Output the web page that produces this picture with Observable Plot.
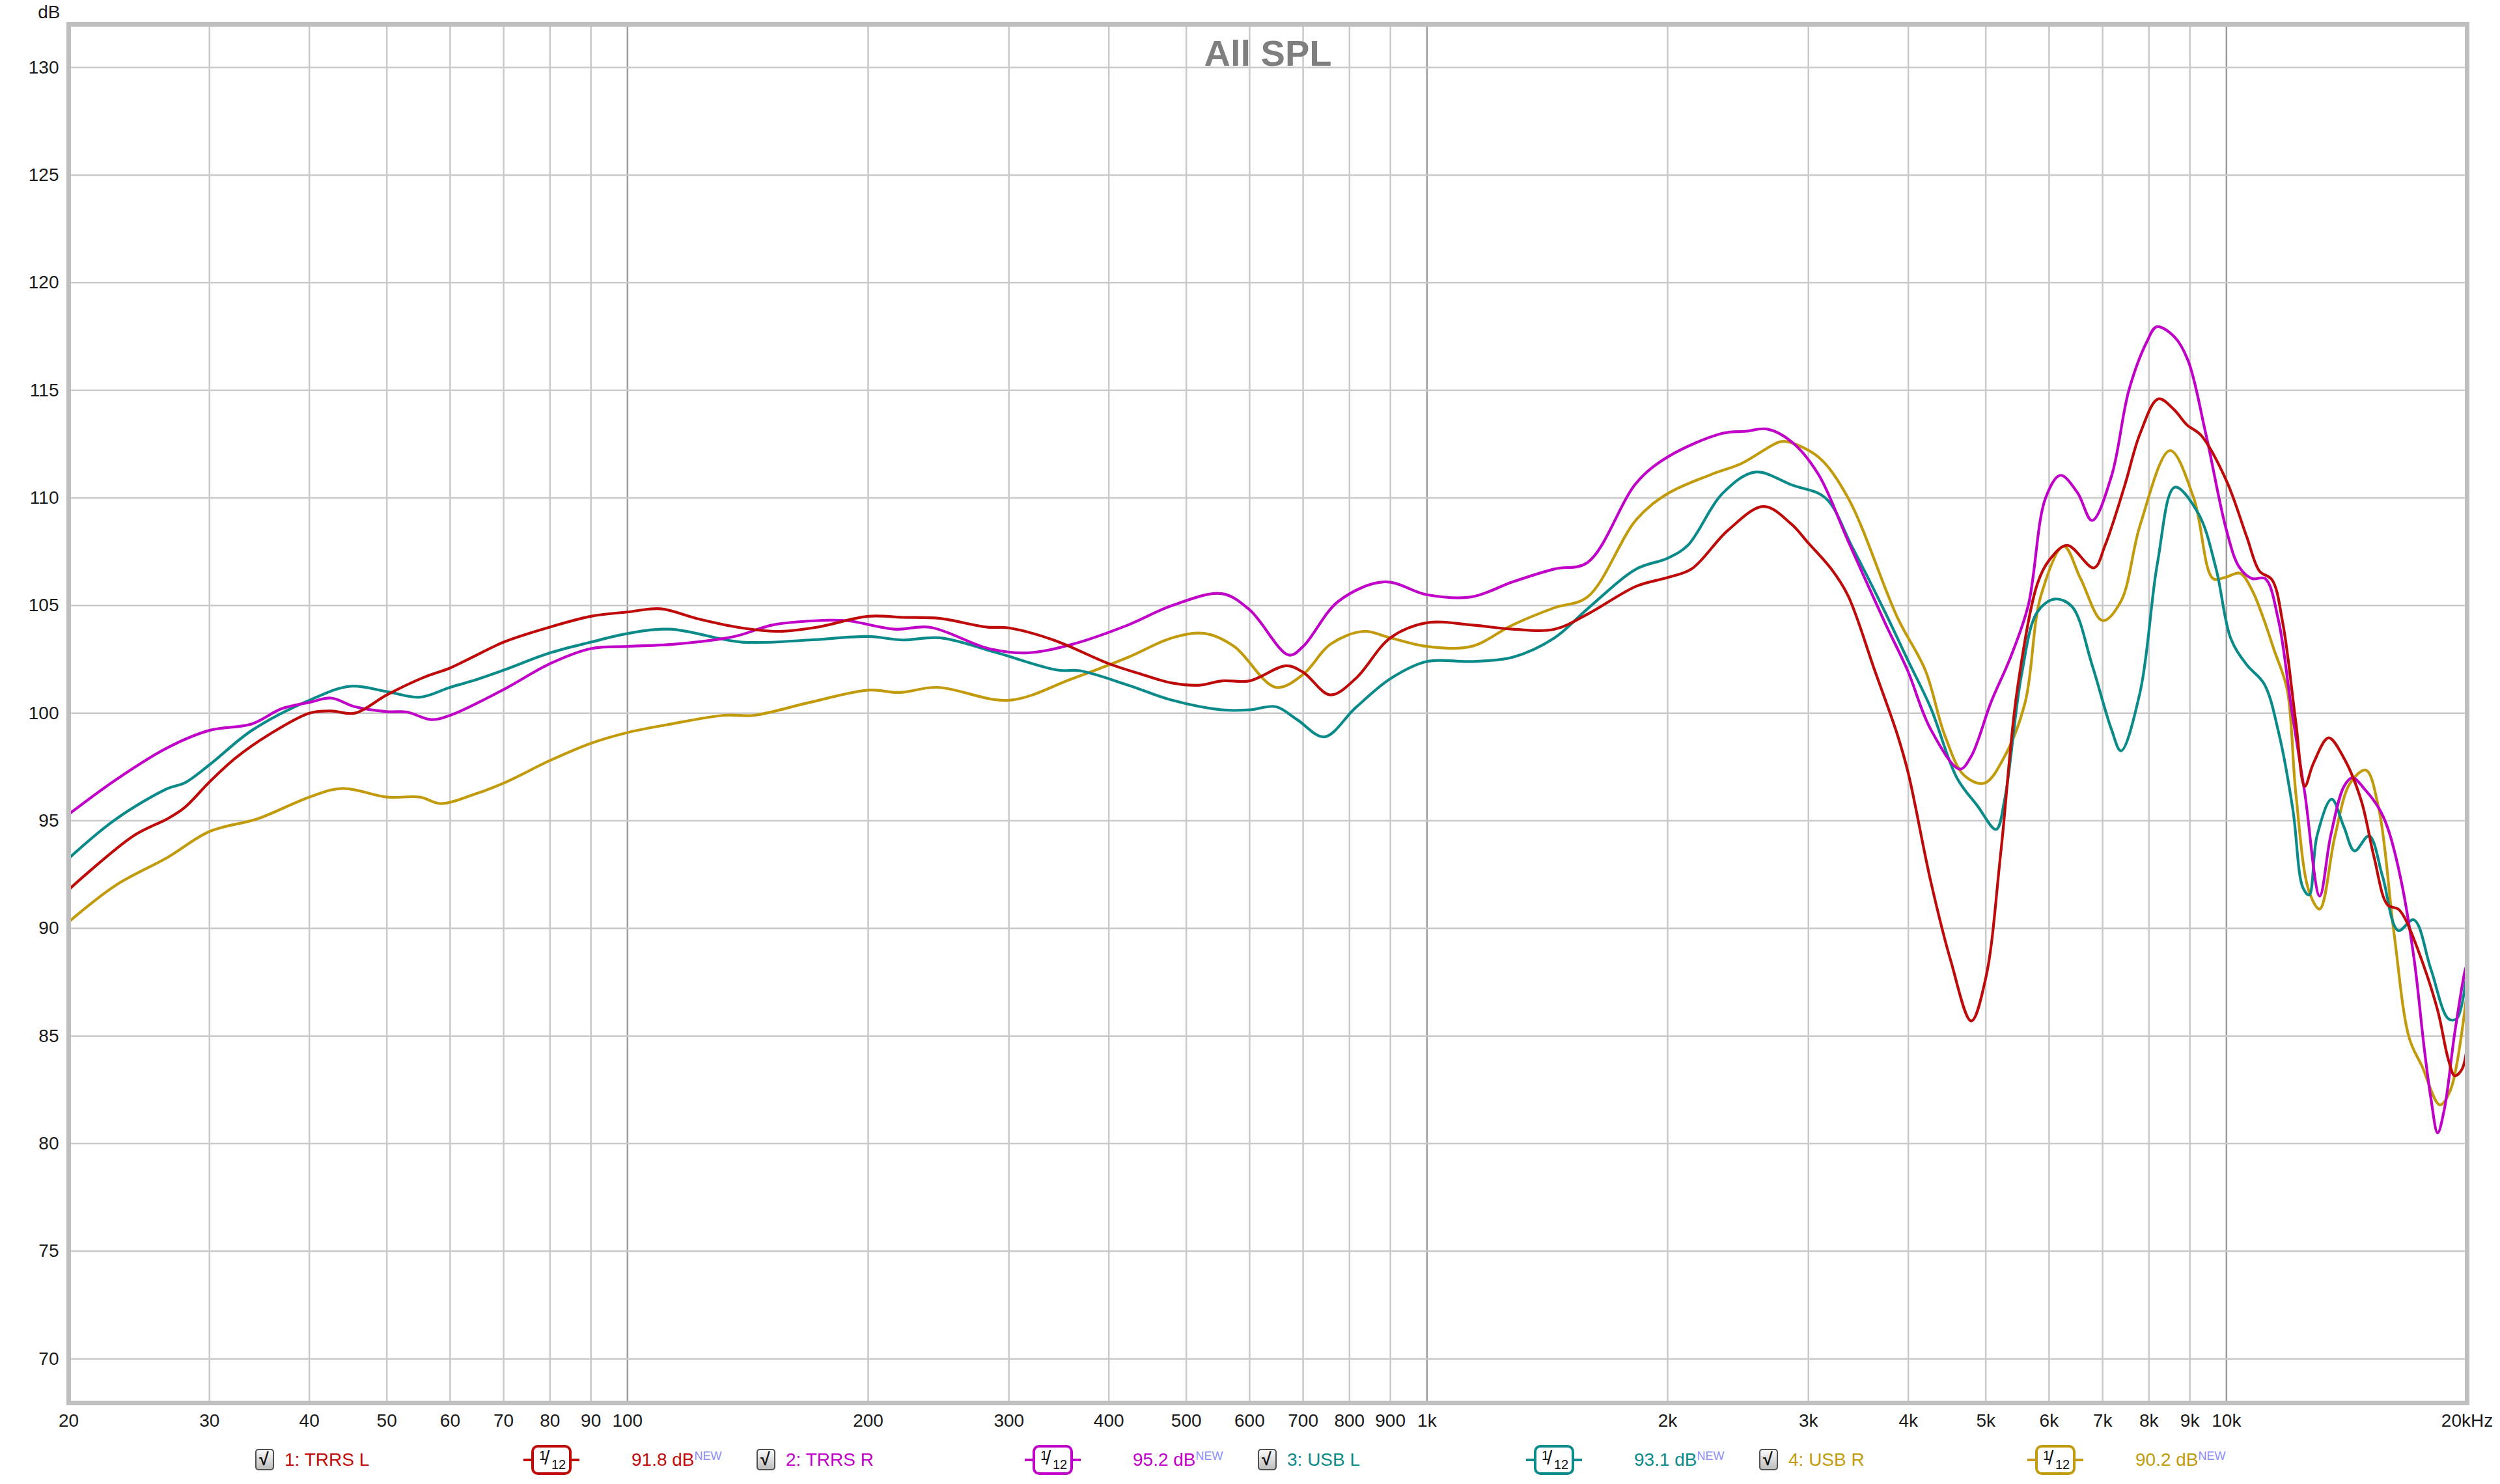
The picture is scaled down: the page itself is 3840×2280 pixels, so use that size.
<!DOCTYPE html>
<html>
<head>
<meta charset="utf-8">
<script src="https://cdn.jsdelivr.net/npm/d3@7"></script>
<script src="https://cdn.jsdelivr.net/npm/@observablehq/plot@0.6"></script>
<style>
  html, body { margin: 0; padding: 0; background: #fff; }
  body { width: 3840px; height: 2280px; overflow: hidden; font-family: "Liberation Sans", Arial, sans-serif; }
  #chart { position: absolute; left: 0; top: 0; }
  #legend { position: absolute; left: 0; top: 2210px; width: 3840px; height: 70px; }
  .lg { position: absolute; white-space: nowrap; font-size: 28px; line-height: 28px; }
  .cb { position: absolute; width: 29px; height: 33px; border: 2px solid #505050; border-radius: 5px;
        background: linear-gradient(#fafafa, #bdbdbd); box-sizing: border-box; }
  .cb span { position: absolute; left: 4px; top: -1px; font-size: 27px; font-weight: bold; color: #111; }
  .fb { position: absolute; width: 62px; height: 46px; border: 4px solid; border-radius: 10px; box-sizing: border-box; background: #fff; }
  .stub { position: absolute; height: 4px; width: 12px; }
  .frac { position: absolute; left: 0; top: 0; width: 100%; height: 100%; color: #111; font-size: 20px; }
  .sup { font-size: 18px; color: #8a8cff; vertical-align: top; position: relative; top: -6px; }
</style>
</head>
<body>
<div id="chart"></div>
<div id="legend"></div>
<script>
// ---------- data ----------
const seriesNames = ["1: TRRS L", "2: TRRS R", "3: USB L", "4: USB R"];
const seriesColors = ["#bf0a0a", "#c000c8", "#0b8a8a", "#c29b0c"];
const seriesLevels = ["91.8 dB", "95.2 dB", "93.1 dB", "90.2 dB"];

const xTicks = [20,30,40,50,60,70,80,90,100,200,300,400,500,600,700,800,900,1000,2000,3000,4000,5000,6000,7000,8000,9000,10000,20000];
const xTickLabels = ["20","30","40","50","60","70","80","90","100","200","300","400","500","600","700","800","900","1k","2k","3k","4k","5k","6k","7k","8k","9k","10k","20kHz"];
const xMinorGrid = [30,40,50,60,70,80,90,200,300,400,500,600,700,800,900,2000,3000,4000,5000,6000,7000,8000,9000];
const xDecadeGrid = [100,1000,10000];
const yTicks = [70,75,80,85,90,95,100,105,110,115,120,125,130];

// [frequency Hz, SPL dB]
const trrsL = [
 [20,91.8],[24.1,94.3],[26.6,95.1],[27.9,95.6],[30,96.8],[32.3,97.9],[35.6,99.0],[40,100.0],[42.6,100.1],[45.6,100.0],
 [50,100.85],[55.5,101.65],[60,102.1],[64,102.6],[70,103.3],[80,104.0],[90,104.5],[100,104.7],[110,104.85],[122,104.4],
 [139,103.96],[155,103.8],[173,104.0],[200,104.5],[221,104.45],[246,104.4],[281,104.0],[300,103.96],[341,103.4],[400,102.3],
 [440,101.8],[480,101.4],[520,101.3],[554,101.5],[600,101.5],[667,102.2],[700,101.9],[757,100.85],[814,101.6],[900,103.5],
 [1000,104.2],[1136,104.1],[1280,103.9],[1444,103.9],[1588,104.6],[1828,105.9],[2000,106.3],[2143,106.7],[2380,108.5],[2637,109.6],
 [2853,108.8],[3000,107.9],[3204,106.7],[3363,105.45],[3630,102.0],[3876,99.0],[4000,97.2],[4266,92.2],[4520,88.5],[4795,85.7],
 [5000,87.7],[5220,93.5],[5470,101.0],[5800,106.0],[6000,107.1],[6320,107.8],[6825,106.75],[7050,107.8],[7450,110.5],[7800,113.0],
 [8220,114.6],[8600,114.1],[8920,113.4],[9300,112.9],[10000,110.8],[10600,108.2],[11000,106.6],[11400,106.2],[11760,104.2],[12210,99.6],
 [12530,96.6],[12840,97.65],[13420,98.85],[14030,97.9],[14740,95.95],[15300,93.3],[15900,91.1],[16400,90.9],[16700,90.5],[17480,88.7],
 [18370,86.2],[18950,83.9],[19300,83.15],[19700,83.45],[20000,84.5]
];
const trrsR = [
 [20,95.3],[22.9,96.9],[26.6,98.4],[30,99.2],[33.9,99.5],[36.9,100.2],[40,100.5],[42.6,100.7],[45.6,100.3],[50,100.07],
 [53,100.05],[56.8,99.7],[60,99.9],[70,101.1],[80,102.3],[90,103.0],[100,103.1],[114,103.2],[136,103.56],[152,104.1],
 [173,104.3],[188,104.3],[216,103.9],[239,103.99],[283,103.0],[316,102.8],[360,103.2],[423,104.1],[480,105.0],[554,105.55],
 [600,104.8],[672,102.7],[700,103.1],[775,105.2],[885,106.1],[1000,105.5],[1136,105.4],[1280,106.1],[1444,106.7],[1588,107.0],
 [1828,110.7],[2000,111.9],[2341,113.0],[2510,113.1],[2662,113.2],[2860,112.6],[3087,111.1],[3363,108.0],[3740,104.2],[3990,102.0],
 [4266,99.25],[4640,97.4],[4795,98.0],[5075,100.5],[5370,102.6],[5650,105.0],[5940,110.0],[6200,111.05],[6510,110.25],[6790,108.95],
 [7180,111.0],[7550,115.0],[7950,117.25],[8180,117.95],[8600,117.5],[8950,116.4],[9420,113.0],[10000,108.5],[10370,106.8],[10770,106.25],
 [11180,106.25],[11610,104.35],[12060,100.2],[12530,96.3],[13080,91.5],[13500,94.3],[14030,96.6],[14370,97.0],[14940,96.4],[15500,95.6],
 [15900,94.7],[16500,92.4],[17150,88.7],[17680,84.4],[18020,82.1],[18370,80.5],[18730,81.6],[19300,85.15],[19900,88.1],[20000,88.3]
];
const usbL = [
 [20,93.25],[22.9,95.07],[26.6,96.5],[27.9,96.75],[30,97.6],[33.9,99.2],[40,100.6],[45,101.25],[50,101.0],[55,100.74],
 [60,101.2],[64,101.5],[70,102.0],[80,102.8],[90,103.3],[100,103.7],[113,103.9],[139,103.3],[169,103.4],[200,103.56],
 [221,103.4],[246,103.5],[290,102.8],[345,102.0],[368,101.97],[423,101.3],[480,100.6],[554,100.15],[600,100.15],[647,100.3],
 [688,99.7],[744,98.9],[814,100.25],[900,101.6],[1000,102.4],[1136,102.4],[1280,102.6],[1444,103.5],[1588,104.85],[1828,106.7],
 [2000,107.2],[2120,107.8],[2341,110.2],[2573,111.2],[2860,110.6],[3150,110.0],[3400,107.75],[3740,104.7],[3990,102.5],[4266,100.25],
 [4600,97.0],[4880,95.7],[5150,94.6],[5280,96.0],[5540,101.75],[5800,104.7],[6100,105.3],[6410,104.95],[6790,102.25],[7180,99.25],
 [7380,98.25],[7800,101.0],[8200,107.0],[8620,110.5],[9230,109.25],[9700,106.75],[10130,103.45],[10600,102.25],[11150,101.35],[11630,99.05],
 [12110,95.5],[12460,91.9],[12690,91.55],[12980,94.3],[13540,96.0],[14030,94.7],[14460,93.6],[15080,94.3],[15680,92.4],[16400,89.9],
 [17150,90.4],[18020,88.1],[18950,85.8],[19410,85.8],[20000,88.1]
];
const usbR = [
 [20,90.3],[22.9,92.0],[26.6,93.3],[30,94.5],[34.5,95.1],[40,96.1],[44,96.5],[50,96.1],[55,96.1],[58.4,95.8],
 [64,96.2],[70,96.75],[80,97.8],[90,98.6],[100,99.1],[112,99.46],[132,99.9],[144,99.9],[169,100.5],[200,101.07],
 [219,100.96],[244,101.2],[300,100.6],[360,101.6],[423,102.6],[480,103.5],[528,103.7],[574,103.1],[647,101.2],[700,101.8],
 [757,103.2],[833,103.8],[900,103.5],[1000,103.1],[1136,103.1],[1280,104.1],[1444,104.9],[1588,105.4],[1828,109.0],[2000,110.2],
 [2271,111.1],[2474,111.6],[2759,112.6],[2830,112.6],[3087,111.9],[3363,110.0],[3876,104.45],[4200,102.0],[4440,99.0],[4700,97.1],
 [4980,96.75],[5280,98.0],[5600,100.5],[5860,105.45],[6260,107.75],[6570,106.25],[7000,104.3],[7380,105.2],[7800,108.75],[8500,112.2],
 [9100,110.0],[9620,106.25],[9950,106.3],[10400,106.5],[10770,105.7],[11100,104.5],[11480,102.9],[11910,101.1],[12210,96.3],[12690,91.7],
 [13080,90.9],[13670,94.3],[14280,96.75],[14940,97.35],[15500,95.6],[16200,89.8],[16930,84.9],[17560,83.6],[18490,81.8],[19070,82.5],
 [20000,87.1]
];

// ---------- build table ----------
const allSeries = [usbR, usbL, trrsR, trrsL];
const allNames = [seriesNames[3], seriesNames[2], seriesNames[1], seriesNames[0]];
const rows = [];
allSeries.forEach((s, i) => s.forEach(([f, v]) => rows.push({f, v, series: allNames[i]})));

const chart = Plot.plot({
  width: 3840,
  height: 2210,
  marginLeft: 105,
  marginRight: 51,
  marginTop: 37,
  marginBottom: 55,
  style: {fontFamily: "'Liberation Sans', Arial, sans-serif", fontSize: "28px", color: "#1a1a1a", background: "#fff", overflow: "visible"},
  x: {type: "log", domain: [20, 20000], axis: null},
  y: {domain: [67.95, 132], ticks: yTicks, tickSize: 0, tickPadding: 15, label: null},
  color: {domain: seriesNames, range: seriesColors},
  marks: [
    Plot.ruleX(xMinorGrid, {stroke: "#c9c9c9", strokeWidth: 2.5}),
    Plot.ruleX(xDecadeGrid, {stroke: "#9c9c9c", strokeWidth: 2.5}),
    Plot.ruleY(yTicks, {stroke: "#c9c9c9", strokeWidth: 2.5}),
    Plot.text(["All SPL"], {frameAnchor: "top", lineAnchor: "bottom", dy: 63, fontSize: 56, fontWeight: "bold", fill: "#7f7f7f"}),
    Plot.line(rows, {x: "f", y: "v", z: "series", stroke: "series", strokeWidth: 4.2, curve: "catmull-rom", clip: true}),
    Plot.frame({stroke: "#bfbfbf", strokeWidth: 7}),
    Plot.text(xTicks, {x: d => d, text: (d, i) => xTickLabels[i], frameAnchor: "bottom", lineAnchor: "top", dy: 17, fontSize: 28, fill: "#1a1a1a"}),
    Plot.text(["dB"], {frameAnchor: "top-left", textAnchor: "end", lineAnchor: "bottom", dx: -13, dy: -10, fontSize: 28, fill: "#1a1a1a"})
  ]
});
document.getElementById("chart").appendChild(chart);

// ---------- legend ----------
const legend = document.getElementById("legend");
const cy = 33;
seriesNames.forEach((name, i) => {
  const base = 407 + i * 770;
  const col = seriesColors[i];
  const cb = document.createElement("div");
  cb.className = "cb";
  cb.style.left = (base - 15) + "px";
  cb.style.top = (cy - 17) + "px";
  cb.innerHTML = "<span>\u221A</span>";
  legend.appendChild(cb);

  const lab = document.createElement("div");
  lab.className = "lg";
  lab.style.left = (base + 30) + "px";
  lab.style.top = (cy - 14) + "px";
  lab.style.color = col;
  lab.textContent = name;
  legend.appendChild(lab);

  const fx = base + 440;
  [fx - 43, fx + 31].forEach(sx => {
    const st = document.createElement("div");
    st.className = "stub";
    st.style.left = sx + "px";
    st.style.top = (cy - 2) + "px";
    st.style.background = col;
    legend.appendChild(st);
  });
  const fb = document.createElement("div");
  fb.className = "fb";
  fb.style.left = (fx - 31) + "px";
  fb.style.top = (cy - 23) + "px";
  fb.style.borderColor = col;
  fb.innerHTML = '<div class="frac"><span style="position:absolute;left:8px;top:1px;">1</span>' +
                 '<span style="position:absolute;left:16px;top:-1px;font-size:30px;">/</span>' +
                 '<span style="position:absolute;left:27px;top:15px;">12</span></div>';
  legend.appendChild(fb);

  const val = document.createElement("div");
  val.className = "lg";
  val.style.left = (base + 563) + "px";
  val.style.top = (cy - 14) + "px";
  val.style.color = col;
  val.innerHTML = seriesLevels[i] + '<span class="sup">NEW</span>';
  legend.appendChild(val);
});
</script>
</body>
</html>
